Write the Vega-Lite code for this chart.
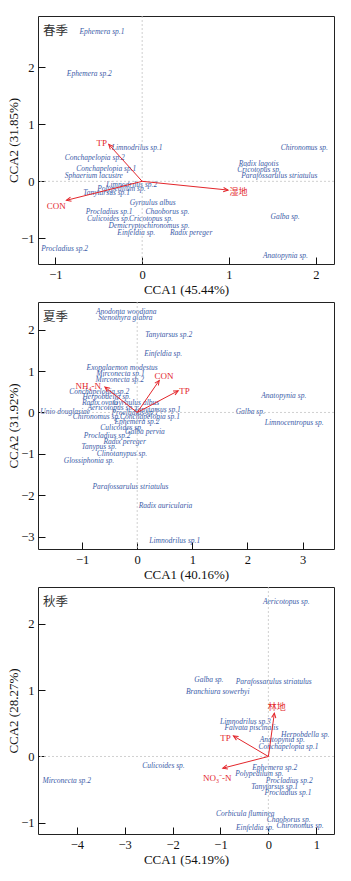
{
  "$schema": "https://vega.github.io/schema/vega-lite/v6.json",
  "padding": {"left": 7, "top": 15, "right": 5, "bottom": 5},
  "datasets": {
    "spring_sp": [
      {"name": "Ephemera sp.1", "x": -0.463, "y": 2.62},
      {"name": "Ephemera sp.2", "x": -0.609, "y": 1.877},
      {"name": "Limnodrilus sp.1", "x": -0.058, "y": 0.59},
      {"name": "Chironomus sp.", "x": 1.868, "y": 0.584},
      {"name": "Conchapelopia sp.2", "x": -0.546, "y": 0.414},
      {"name": "Conchapelopia sp.1", "x": -0.413, "y": 0.221},
      {"name": "Sphaerium lacustre", "x": -0.557, "y": 0.088},
      {"name": "Radix lagotis", "x": 1.342, "y": 0.304},
      {"name": "Cricotopus sp.", "x": 1.346, "y": 0.198},
      {"name": "Parafossarulus striatulus", "x": 1.58, "y": 0.088},
      {"name": "Limnodrilus sp.2", "x": -0.12, "y": -0.065},
      {"name": "Polypedilum sp.", "x": -0.24, "y": -0.13},
      {"name": "Tanytarsus sp.1", "x": -0.41, "y": -0.205},
      {"name": "Gyraulus  albus", "x": 0.121, "y": -0.386},
      {"name": "Procladius sp.1", "x": -0.38, "y": -0.533},
      {"name": "Chaoborus sp.", "x": 0.291, "y": -0.533},
      {"name": "Culicoides sp.", "x": -0.39, "y": -0.667},
      {"name": "Cricotopus sp.", "x": 0.101, "y": -0.656},
      {"name": "Demicryptochironomus sp.", "x": 0.08, "y": -0.784},
      {"name": "Einfeldia sp.", "x": -0.068, "y": -0.907},
      {"name": "Radix pereger", "x": 0.564, "y": -0.907},
      {"name": "Galba sp.", "x": 1.647, "y": -0.62},
      {"name": "Procladius sp.2", "x": -0.893, "y": -1.193},
      {"name": "Anatopynia sp.", "x": 1.651, "y": -1.316}
    ],
    "spring_env": [
      {"name": "TP", "x": -0.385, "y": 0.649, "lx": -0.465, "ly": 0.677},
      {"name": "CON", "x": -0.873, "y": -0.333, "lx": -0.99, "ly": -0.43},
      {"name": "湿地", "x": 0.99, "y": -0.153, "lx": 1.11, "ly": -0.18}
    ],
    "summer_sp": [
      {"name": "Anodonta woodiana", "x": -0.2, "y": 2.44},
      {"name": "Stenothyra glabra", "x": -0.214, "y": 2.276},
      {"name": "Tanytarsus sp.2", "x": 0.572, "y": 1.872},
      {"name": "Einfeldia sp.", "x": 0.47, "y": 1.41},
      {"name": "Exopalaemon modestus", "x": -0.274, "y": 1.073},
      {"name": "Mirconecta sp.1", "x": -0.305, "y": 0.927},
      {"name": "Mirconecta sp.2", "x": -0.317, "y": 0.79},
      {"name": "Conchapelopia sp.2", "x": -0.69, "y": 0.5},
      {"name": "Herpobdella sp.", "x": -0.556, "y": 0.37},
      {"name": "Radix  ovata", "x": -0.677, "y": 0.235},
      {"name": "Gyraulus  albus", "x": -0.02, "y": 0.225},
      {"name": "Aericotopus sp.", "x": -0.48, "y": 0.105},
      {"name": "Tanytarsus sp.1", "x": 0.367, "y": 0.065},
      {"name": "Unio douglasiae", "x": -1.307, "y": 0.017},
      {"name": "Galba sp.", "x": 2.05, "y": 0.017},
      {"name": "Anatopynia sp.", "x": 2.659, "y": 0.41},
      {"name": "Limnocentropus sp.", "x": 2.847, "y": -0.26},
      {"name": "Procladius sp.1", "x": -0.042, "y": -0.024},
      {"name": "Chironomus sp.", "x": -0.74, "y": -0.121},
      {"name": "Conchapelopia sp.1", "x": 0.23, "y": -0.121},
      {"name": "Ephemera sp.2", "x": -0.005, "y": -0.242},
      {"name": "Culicoides sp.", "x": -0.283, "y": -0.38},
      {"name": "Galba pervia", "x": 0.14, "y": -0.468},
      {"name": "Procladius sp.2", "x": -0.546, "y": -0.565},
      {"name": "Radix pereger", "x": -0.229, "y": -0.71},
      {"name": "Tanypus sp.", "x": -0.692, "y": -0.84},
      {"name": "Clinotanypus sp.", "x": -0.278, "y": -1.01},
      {"name": "Glossiphonia sp.", "x": -0.874, "y": -1.17},
      {"name": "Parafossarulus striatulus", "x": -0.123, "y": -1.81},
      {"name": "Radix auricularia", "x": 0.512, "y": -2.26},
      {"name": "Limnodrilus sp.1", "x": 0.681, "y": -3.107}
    ],
    "summer_env": [
      {"name": "NH₄-N", "x": -0.586, "y": 0.613, "lx": -0.889, "ly": 0.646},
      {"name": "CON", "x": 0.4, "y": 0.775, "lx": 0.488, "ly": 0.872},
      {"name": "TP", "x": 0.744, "y": 0.525, "lx": 0.86, "ly": 0.508}
    ],
    "autumn_sp": [
      {"name": "Aericotopus sp.", "x": 0.373, "y": 2.33},
      {"name": "Galba sp.", "x": -1.242, "y": 1.145},
      {"name": "Parafossarulus striatulus", "x": 0.112, "y": 1.114},
      {"name": "Branchiura sowerbyi", "x": -1.057, "y": 0.973},
      {"name": "Limnodrilus sp.3", "x": -0.48, "y": 0.512},
      {"name": "Falvata piscinalis", "x": -0.355, "y": 0.426},
      {"name": "Herpobdella sp.", "x": 0.77, "y": 0.316},
      {"name": "Anatopynia sp.", "x": 0.29, "y": 0.241},
      {"name": "Conchapelopia sp.1", "x": 0.418, "y": 0.15},
      {"name": "Culicoides sp.", "x": -2.19, "y": -0.15},
      {"name": "Mirconecta sp.2", "x": -4.21, "y": -0.367},
      {"name": "Ephemera sp.2", "x": 0.133, "y": -0.166},
      {"name": "Polypedilum sp.", "x": -0.19, "y": -0.267},
      {"name": "Procladius sp.2", "x": 0.436, "y": -0.367},
      {"name": "Tanytarsus sp.1", "x": 0.13, "y": -0.452},
      {"name": "Procladius sp.1", "x": 0.41, "y": -0.553},
      {"name": "Corbicula  fluminea", "x": -0.483, "y": -0.864},
      {"name": "Chaoborus sp.", "x": 0.425, "y": -0.955},
      {"name": "Einfeldia sp.", "x": -0.28, "y": -1.07},
      {"name": "Chironomus sp.", "x": 0.662, "y": -1.045}
    ],
    "autumn_env": [
      {"name": "林地", "x": 0.125, "y": 0.652, "lx": 0.175, "ly": 0.738},
      {"name": "TP", "x": -0.73, "y": 0.31, "lx": -0.894, "ly": 0.276},
      {"name": "NO₃⁻-N", "x": -0.952, "y": -0.176, "lx": -1.067, "ly": -0.316}
    ]
  },
  "vconcat": [
    {
      "width": 296, "height": 248,
      "layer": [
        {"data": {"name": "spring_sp"}, "mark": {"type": "text", "fontStyle": "italic", "fontSize": 7.5, "color": "#3b5ca8", "font": "Liberation Serif"},
         "encoding": {
           "x": {"field": "x", "type": "quantitative", "scale": {"domain": [-1.2, 2.21], "nice": false, "zero": false}, "axis": {"title": "CCA1 (45.44%)", "values": [-1, 0, 1, 2]}},
           "y": {"field": "y", "type": "quantitative", "scale": {"domain": [-1.45, 2.9], "nice": false, "zero": false}, "axis": {"title": "CCA2 (31.85%)", "values": [-1, 0, 1, 2]}},
           "text": {"field": "name"}}},
        {"data": {"values": [{"z": 0}]}, "mark": {"type": "rule", "strokeDash": [2, 2], "color": "#c4c4c4", "strokeWidth": 0.8},
         "encoding": {"x": {"field": "z", "type": "quantitative", "scale": {"domain": [-1.2, 2.21], "nice": false, "zero": false}, "axis": {"title": "CCA1 (45.44%)", "values": [-1, 0, 1, 2]}}}},
        {"data": {"values": [{"z": 0}]}, "mark": {"type": "rule", "strokeDash": [2, 2], "color": "#c4c4c4", "strokeWidth": 0.8},
         "encoding": {"y": {"field": "z", "type": "quantitative", "scale": {"domain": [-1.45, 2.9], "nice": false, "zero": false}, "axis": {"title": "CCA2 (31.85%)", "values": [-1, 0, 1, 2]}}}},
        {"data": {"name": "spring_env"}, "mark": {"type": "rule", "color": "#e3262b", "strokeWidth": 1},
         "encoding": {
           "x": {"field": "x", "type": "quantitative", "scale": {"domain": [-1.2, 2.21], "nice": false, "zero": false}, "axis": {"title": "CCA1 (45.44%)", "values": [-1, 0, 1, 2]}},
           "y": {"field": "y", "type": "quantitative", "scale": {"domain": [-1.45, 2.9], "nice": false, "zero": false}, "axis": {"title": "CCA2 (31.85%)", "values": [-1, 0, 1, 2]}},
           "x2": {"datum": 0}, "y2": {"datum": 0}}},
        {"data": {"name": "spring_env"}, "transform": [{"calculate": "atan2(datum.x*86.8, datum.y*57)*180/PI", "as": "ang"}],
         "mark": {"type": "point", "shape": "M-0.45,1L0,0L0.45,1", "filled": false, "stroke": "#e3262b", "strokeWidth": 1, "size": 90, "opacity": 1},
         "encoding": {
           "x": {"field": "x", "type": "quantitative", "scale": {"domain": [-1.2, 2.21], "nice": false, "zero": false}, "axis": {"title": "CCA1 (45.44%)", "values": [-1, 0, 1, 2]}},
           "y": {"field": "y", "type": "quantitative", "scale": {"domain": [-1.45, 2.9], "nice": false, "zero": false}, "axis": {"title": "CCA2 (31.85%)", "values": [-1, 0, 1, 2]}},
           "angle": {"field": "ang", "type": "quantitative", "scale": null}}},
        {"data": {"name": "spring_env"}, "mark": {"type": "text", "fontSize": 9, "color": "#e3262b", "font": "Liberation Serif, Noto Sans CJK SC"},
         "encoding": {
           "x": {"field": "lx", "type": "quantitative", "scale": {"domain": [-1.2, 2.21], "nice": false, "zero": false}, "axis": {"title": "CCA1 (45.44%)", "values": [-1, 0, 1, 2]}},
           "y": {"field": "ly", "type": "quantitative", "scale": {"domain": [-1.45, 2.9], "nice": false, "zero": false}, "axis": {"title": "CCA2 (31.85%)", "values": [-1, 0, 1, 2]}},
           "text": {"field": "name"}}},
        {"data": {"values": [{"label": "春季", "x": -1.2, "y": 2.9}]}, "mark": {"type": "text", "align": "left", "baseline": "top", "dx": 5, "dy": 9, "fontSize": 12.5, "color": "#333", "font": "Noto Sans CJK SC"},
         "encoding": {
           "x": {"field": "x", "type": "quantitative", "scale": {"domain": [-1.2, 2.21], "nice": false, "zero": false}, "axis": {"title": "CCA1 (45.44%)", "values": [-1, 0, 1, 2]}},
           "y": {"field": "y", "type": "quantitative", "scale": {"domain": [-1.45, 2.9], "nice": false, "zero": false}, "axis": {"title": "CCA2 (31.85%)", "values": [-1, 0, 1, 2]}},
           "text": {"field": "label"}}}
      ]
    },
    {
      "width": 296, "height": 247,
      "layer": [
        {"data": {"name": "summer_sp"}, "mark": {"type": "text", "fontStyle": "italic", "fontSize": 7.5, "color": "#3b5ca8", "font": "Liberation Serif"},
         "encoding": {
           "x": {"field": "x", "type": "quantitative", "scale": {"domain": [-1.8, 3.57], "nice": false, "zero": false}, "axis": {"title": "CCA1 (40.16%)", "values": [-1, 0, 1, 2, 3]}},
           "y": {"field": "y", "type": "quantitative", "scale": {"domain": [-3.3, 2.67], "nice": false, "zero": false}, "axis": {"title": "CCA2 (31.92%)", "values": [-3, -2, -1, 0, 1, 2]}},
           "text": {"field": "name"}}},
        {"data": {"values": [{"z": 0}]}, "mark": {"type": "rule", "strokeDash": [2, 2], "color": "#c4c4c4", "strokeWidth": 0.8},
         "encoding": {"x": {"field": "z", "type": "quantitative", "scale": {"domain": [-1.8, 3.57], "nice": false, "zero": false}, "axis": {"title": "CCA1 (40.16%)", "values": [-1, 0, 1, 2, 3]}}}},
        {"data": {"values": [{"z": 0}]}, "mark": {"type": "rule", "strokeDash": [2, 2], "color": "#c4c4c4", "strokeWidth": 0.8},
         "encoding": {"y": {"field": "z", "type": "quantitative", "scale": {"domain": [-3.3, 2.67], "nice": false, "zero": false}, "axis": {"title": "CCA2 (31.92%)", "values": [-3, -2, -1, 0, 1, 2]}}}},
        {"data": {"name": "summer_env"}, "mark": {"type": "rule", "color": "#e3262b", "strokeWidth": 1},
         "encoding": {
           "x": {"field": "x", "type": "quantitative", "scale": {"domain": [-1.8, 3.57], "nice": false, "zero": false}, "axis": {"title": "CCA1 (40.16%)", "values": [-1, 0, 1, 2, 3]}},
           "y": {"field": "y", "type": "quantitative", "scale": {"domain": [-3.3, 2.67], "nice": false, "zero": false}, "axis": {"title": "CCA2 (31.92%)", "values": [-3, -2, -1, 0, 1, 2]}},
           "x2": {"datum": 0}, "y2": {"datum": 0}}},
        {"data": {"name": "summer_env"}, "transform": [{"calculate": "atan2(datum.x*55.1, datum.y*41.4)*180/PI", "as": "ang"}],
         "mark": {"type": "point", "shape": "M-0.45,1L0,0L0.45,1", "filled": false, "stroke": "#e3262b", "strokeWidth": 1, "size": 90, "opacity": 1},
         "encoding": {
           "x": {"field": "x", "type": "quantitative", "scale": {"domain": [-1.8, 3.57], "nice": false, "zero": false}, "axis": {"title": "CCA1 (40.16%)", "values": [-1, 0, 1, 2, 3]}},
           "y": {"field": "y", "type": "quantitative", "scale": {"domain": [-3.3, 2.67], "nice": false, "zero": false}, "axis": {"title": "CCA2 (31.92%)", "values": [-3, -2, -1, 0, 1, 2]}},
           "angle": {"field": "ang", "type": "quantitative", "scale": null}}},
        {"data": {"name": "summer_env"}, "mark": {"type": "text", "fontSize": 9, "color": "#e3262b", "font": "Liberation Serif, Noto Sans CJK SC"},
         "encoding": {
           "x": {"field": "lx", "type": "quantitative", "scale": {"domain": [-1.8, 3.57], "nice": false, "zero": false}, "axis": {"title": "CCA1 (40.16%)", "values": [-1, 0, 1, 2, 3]}},
           "y": {"field": "ly", "type": "quantitative", "scale": {"domain": [-3.3, 2.67], "nice": false, "zero": false}, "axis": {"title": "CCA2 (31.92%)", "values": [-3, -2, -1, 0, 1, 2]}},
           "text": {"field": "name"}}},
        {"data": {"values": [{"label": "夏季", "x": -1.8, "y": 2.67}]}, "mark": {"type": "text", "align": "left", "baseline": "top", "dx": 5, "dy": 9, "fontSize": 12.5, "color": "#333", "font": "Noto Sans CJK SC"},
         "encoding": {
           "x": {"field": "x", "type": "quantitative", "scale": {"domain": [-1.8, 3.57], "nice": false, "zero": false}, "axis": {"title": "CCA1 (40.16%)", "values": [-1, 0, 1, 2, 3]}},
           "y": {"field": "y", "type": "quantitative", "scale": {"domain": [-3.3, 2.67], "nice": false, "zero": false}, "axis": {"title": "CCA2 (31.92%)", "values": [-3, -2, -1, 0, 1, 2]}},
           "text": {"field": "label"}}}
      ]
    },
    {
      "width": 296, "height": 247,
      "layer": [
        {"data": {"name": "autumn_sp"}, "mark": {"type": "text", "fontStyle": "italic", "fontSize": 7.5, "color": "#3b5ca8", "font": "Liberation Serif"},
         "encoding": {
           "x": {"field": "x", "type": "quantitative", "scale": {"domain": [-4.81, 1.37], "nice": false, "zero": false}, "axis": {"title": "CCA1 (54.19%)", "values": [-4, -3, -2, -1, 0, 1]}},
           "y": {"field": "y", "type": "quantitative", "scale": {"domain": [-1.166, 2.55], "nice": false, "zero": false}, "axis": {"title": "CCA2 (28.27%)", "values": [-1, 0, 1, 2]}},
           "text": {"field": "name"}}},
        {"data": {"values": [{"z": 0}]}, "mark": {"type": "rule", "strokeDash": [2, 2], "color": "#c4c4c4", "strokeWidth": 0.8},
         "encoding": {"x": {"field": "z", "type": "quantitative", "scale": {"domain": [-4.81, 1.37], "nice": false, "zero": false}, "axis": {"title": "CCA1 (54.19%)", "values": [-4, -3, -2, -1, 0, 1]}}}},
        {"data": {"values": [{"z": 0}]}, "mark": {"type": "rule", "strokeDash": [2, 2], "color": "#c4c4c4", "strokeWidth": 0.8},
         "encoding": {"y": {"field": "z", "type": "quantitative", "scale": {"domain": [-1.166, 2.55], "nice": false, "zero": false}, "axis": {"title": "CCA2 (28.27%)", "values": [-1, 0, 1, 2]}}}},
        {"data": {"name": "autumn_env"}, "mark": {"type": "rule", "color": "#e3262b", "strokeWidth": 1},
         "encoding": {
           "x": {"field": "x", "type": "quantitative", "scale": {"domain": [-4.81, 1.37], "nice": false, "zero": false}, "axis": {"title": "CCA1 (54.19%)", "values": [-4, -3, -2, -1, 0, 1]}},
           "y": {"field": "y", "type": "quantitative", "scale": {"domain": [-1.166, 2.55], "nice": false, "zero": false}, "axis": {"title": "CCA2 (28.27%)", "values": [-1, 0, 1, 2]}},
           "x2": {"datum": 0}, "y2": {"datum": 0}}},
        {"data": {"name": "autumn_env"}, "transform": [{"calculate": "atan2(datum.x*47.9, datum.y*66.5)*180/PI", "as": "ang"}],
         "mark": {"type": "point", "shape": "M-0.45,1L0,0L0.45,1", "filled": false, "stroke": "#e3262b", "strokeWidth": 1, "size": 90, "opacity": 1},
         "encoding": {
           "x": {"field": "x", "type": "quantitative", "scale": {"domain": [-4.81, 1.37], "nice": false, "zero": false}, "axis": {"title": "CCA1 (54.19%)", "values": [-4, -3, -2, -1, 0, 1]}},
           "y": {"field": "y", "type": "quantitative", "scale": {"domain": [-1.166, 2.55], "nice": false, "zero": false}, "axis": {"title": "CCA2 (28.27%)", "values": [-1, 0, 1, 2]}},
           "angle": {"field": "ang", "type": "quantitative", "scale": null}}},
        {"data": {"name": "autumn_env"}, "mark": {"type": "text", "fontSize": 9, "color": "#e3262b", "font": "Liberation Serif, Noto Sans CJK SC"},
         "encoding": {
           "x": {"field": "lx", "type": "quantitative", "scale": {"domain": [-4.81, 1.37], "nice": false, "zero": false}, "axis": {"title": "CCA1 (54.19%)", "values": [-4, -3, -2, -1, 0, 1]}},
           "y": {"field": "ly", "type": "quantitative", "scale": {"domain": [-1.166, 2.55], "nice": false, "zero": false}, "axis": {"title": "CCA2 (28.27%)", "values": [-1, 0, 1, 2]}},
           "text": {"field": "name"}}},
        {"data": {"values": [{"label": "秋季", "x": -4.81, "y": 2.55}]}, "mark": {"type": "text", "align": "left", "baseline": "top", "dx": 5, "dy": 9, "fontSize": 12.5, "color": "#333", "font": "Noto Sans CJK SC"},
         "encoding": {
           "x": {"field": "x", "type": "quantitative", "scale": {"domain": [-4.81, 1.37], "nice": false, "zero": false}, "axis": {"title": "CCA1 (54.19%)", "values": [-4, -3, -2, -1, 0, 1]}},
           "y": {"field": "y", "type": "quantitative", "scale": {"domain": [-1.166, 2.55], "nice": false, "zero": false}, "axis": {"title": "CCA2 (28.27%)", "values": [-1, 0, 1, 2]}},
           "text": {"field": "label"}}}
      ]
    }
  ],
  "config": {
    "view": {"stroke": "#222", "strokeWidth": 1},
    "concat": {"spacing": 4},
    "axis": {"domain": false, "grid": false, "ticks": true, "tickSize": -7, "tickColor": "#111", "tickWidth": 1, "labelFont": "Liberation Serif", "labelFontSize": 12.5, "labelColor": "#111", "labelPadding": 11, "titleFont": "Liberation Serif", "titleFontSize": 13, "titleFontWeight": "normal", "titleColor": "#111"},
    "axisX": {"titlePadding": 3},
    "axisY": {"titlePadding": 0}
  }
}
